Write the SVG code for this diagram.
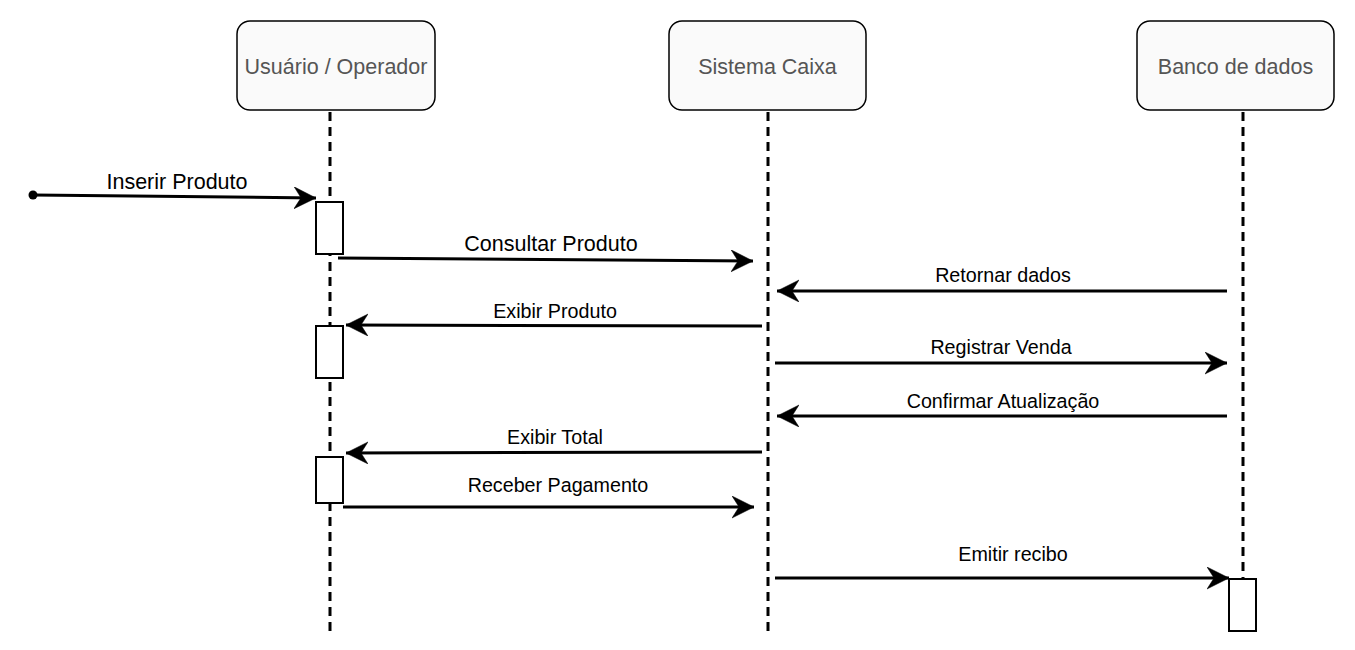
<svg xmlns="http://www.w3.org/2000/svg" width="1355" height="650" viewBox="0 0 1355 650">
<style>
.hdr rect{fill:#fafafa;stroke:#000;stroke-width:1.5}
.hdr text{font-family:"Liberation Sans",Arial,sans-serif;font-size:21.5px;fill:#555;text-anchor:middle}
.life{stroke:#000;stroke-width:3;stroke-dasharray:9 6;fill:none}
.act{fill:#fff;stroke:#000;stroke-width:2}
.msg{stroke:#000;stroke-width:3;fill:none;marker-end:url(#ah)}
.lbl{font-family:"Liberation Sans",Arial,sans-serif;font-size:19.7px;fill:#000;text-anchor:middle}
.big{font-size:21.5px}
</style>
<defs>
<marker id="ah" markerUnits="userSpaceOnUse" markerWidth="24" markerHeight="24" refX="22" refY="11" orient="auto" viewBox="0 0 24 24">
<path d="M0,0 L22,11 L0,22 L7,11 z" fill="#000" stroke="#000" stroke-width="0.5"/>
</marker>
</defs>
<rect width="1355" height="650" fill="#fff"/>
<g id="user" class="hdr">
<rect x="237" y="21" width="198" height="89" rx="13"/>
<text x="336" y="73.5">Usuário / Operador</text>
</g>
<g id="sistema" class="hdr">
<rect x="669" y="21" width="197" height="89" rx="13"/>
<text x="767.5" y="73.5">Sistema Caixa</text>
</g>
<g id="banco" class="hdr">
<rect x="1137" y="21" width="197" height="89" rx="13"/>
<text x="1235.5" y="73.5">Banco de dados</text>
</g>
<g id="lifelines">
<line class="life" x1="330" y1="112" x2="330" y2="632"/>
<line class="life" x1="768" y1="112" x2="768" y2="632"/>
<line class="life" x1="1243" y1="112" x2="1243" y2="632"/>
</g>
<g id="activations">
<rect id="act1" class="act" x="316" y="202" width="27" height="52"/>
<rect id="act2" class="act" x="316" y="326" width="27" height="52"/>
<rect id="act3" class="act" x="316" y="457" width="27" height="46"/>
<rect id="act4" class="act" x="1229" y="579" width="27" height="52"/>
</g>
<g id="connectors">
<circle cx="33" cy="195" r="4.5" fill="#000"/>
<line class="msg" x1="33" y1="195" x2="316" y2="198"/>
<line class="msg" x1="338" y1="258" x2="753" y2="261"/>
<line class="msg" x1="1227" y1="291" x2="777" y2="291"/>
<line class="msg" x1="762" y1="326" x2="346" y2="325"/>
<line class="msg" x1="775" y1="363" x2="1227" y2="363"/>
<line class="msg" x1="1227" y1="416" x2="777" y2="416"/>
<line class="msg" x1="762" y1="452" x2="346" y2="453"/>
<line class="msg" x1="343" y1="507" x2="754" y2="507"/>
<line class="msg" x1="775" y1="578" x2="1229" y2="578"/>
</g>
<g id="labels">
<text class="lbl big" x="177" y="188.5">Inserir Produto</text>
<text class="lbl big" x="551" y="250.5">Consultar Produto</text>
<text class="lbl" x="1003" y="282">Retornar dados</text>
<text class="lbl" x="555" y="318">Exibir Produto</text>
<text class="lbl" x="1001" y="354">Registrar Venda</text>
<text class="lbl" x="1003" y="408">Confirmar Atualização</text>
<text class="lbl" x="555" y="444">Exibir Total</text>
<text class="lbl" x="558" y="492">Receber Pagamento</text>
<text class="lbl" x="1013" y="561">Emitir recibo</text>
</g>
</svg>
